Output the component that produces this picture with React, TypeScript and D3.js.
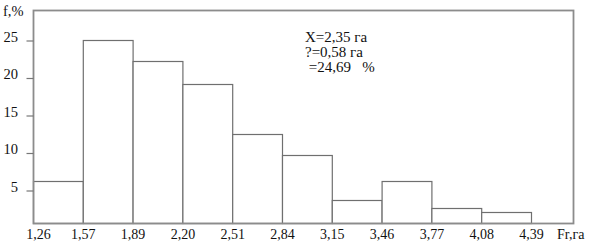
import React from "react";
import * as d3 from "d3";

const binEdges = ["1,26", "1,57", "1,89", "2,20", "2,51", "2,84", "3,15", "3,46", "3,77", "4,08", "4,39"];
const freqs = [6.3, 25.1, 22.4, 19.3, 12.6, 9.8, 3.8, 6.4, 2.7, 2.2];
const yTicks = [5, 10, 15, 20, 25];
const statLines = ["X=2,35 га", "?=0,58 га", " =24,69   %"];

const W = 589;
const H = 248;
const left = 33.5;
const top = 10.5;
const right = 573.5;
const bottom = 223.5;

export default function App() {
  const x = d3.scaleLinear().domain([0, binEdges.length - 1]).range([33.5, 531.5]);
  const y = d3.scaleLinear().domain([0, 30]).range([228.5, 3.5]);
  const font = "Liberation Serif";
  return (
    <svg width={W} height={H} style={{ position: "fixed", left: 0, top: 0, background: "#fff" }}>
      <rect x={0} y={0} width={W} height={H} fill="#fff" />
      {freqs.map((v, i) => (
        <rect
          key={i}
          x={x(i)}
          y={Math.round(y(v)) + 0.5}
          width={x(i + 1) - x(i)}
          height={bottom - (Math.round(y(v)) + 0.5)}
          fill="#fff"
          stroke="#6f6f6f"
          strokeWidth={1.2}
        />
      ))}
      <rect x={left} y={top} width={right - left} height={bottom - top} fill="none" stroke="#8c8c8c" strokeWidth={1.8} />
      {yTicks.map((t) => (
        <g key={t}>
          <line x1={left - 7} x2={left} y1={y(t)} y2={y(t)} stroke="#777" strokeWidth={1.2} />
          <text x={18} y={y(t) + 0.5} textAnchor="end" fontFamily={font} fontSize={14.5} fill="#111">
            {t}
          </text>
        </g>
      ))}
      <text x={3} y={16} fontFamily={font} fontSize={14.5} fill="#111">f,%</text>
      {binEdges.map((e, i) => (
        <text key={e} x={x(i) + (i === 0 ? 5 : 0)} y={238.5} textAnchor="middle" fontFamily={font} fontSize={14} fill="#111">
          {e}
        </text>
      ))}
      <text x={557} y={238.5} fontFamily={font} fontSize={14} fill="#111">Fr,га</text>
      {statLines.map((s, i) => (
        <text key={i} x={305} y={41.7 + i * 15} fontFamily={font} fontSize={15} fill="#111" style={{ whiteSpace: "pre" }}>
          {s}
        </text>
      ))}
    </svg>
  );
}
